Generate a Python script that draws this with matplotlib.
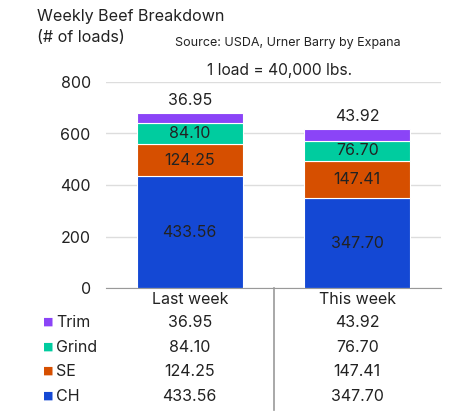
import matplotlib
matplotlib.use("Agg")
import matplotlib.pyplot as plt
import numpy as np

plt.rcParams['font.family'] = ['Inter', 'DejaVu Sans']

categories = ["Last week", "This week"]
series = ["CH", "SE", "Grind", "Trim"]
ch = [433.56, 347.70]
se = [124.25, 147.41]
grind = [84.10, 76.70]
trim = [36.95, 43.92]
colors = {"CH": "#1448D4", "SE": "#D64F00", "Grind": "#00CC9F", "Trim": "#8B44F7"}
yticks = [0, 200, 400, 600, 800]

values = {"CH": ch, "SE": se, "Grind": grind, "Trim": trim}
W, H = 458, 411
fig = plt.figure(figsize=(W / 100, H / 100), dpi=100)
ax = fig.add_axes([106 / W, 1 - 288 / H, (441 - 106) / W, (288 - 82) / H])

txt = "#222222"
fs = 11.5
x = np.arange(len(categories))
bottom = np.zeros(len(categories))
for s in series:
    v = np.array(values[s])
    ax.bar(x, v, 0.63, bottom=bottom, color=colors[s], edgecolor="white", linewidth=0.8, zorder=3)
    for i in range(len(categories)):
        if s == "Trim":
            ax.annotate(f"{v[i]:.2f}", (x[i], bottom[i] + v[i]), xytext=(0, 4), textcoords="offset points",
                        ha="center", va="bottom", fontsize=fs, color=txt)
        else:
            ax.text(x[i], bottom[i] + v[i] / 2, f"{v[i]:.2f}", ha="center", va="center", fontsize=fs, color=txt, zorder=4)
    bottom += v

ax.set_xlim(-0.5, 1.5)
ax.set_ylim(0, 800)
ax.set_yticks(yticks)
ax.set_yticklabels([str(t) for t in yticks], fontsize=fs, color=txt)
ax.tick_params(axis="y", length=0, pad=11)
ax.set_xticks([])
ax.grid(axis="y", color="#DDDDDD", linewidth=1, zorder=0)
for sp in ["top", "right", "left"]:
    ax.spines[sp].set_visible(False)
ax.spines["bottom"].set_color("#999999")
ax.spines["bottom"].set_zorder(5)

def fy(py):
    return 1 - py / H

ax.plot([0.5, 0.5], [0, -122 / 206], transform=ax.get_xaxis_transform(), color="#999999",
        linewidth=1.2, clip_on=False)
for i, c in enumerate(categories):
    ax.text(x[i], -(299 - 288) / 206, c, transform=ax.get_xaxis_transform(), ha="center", va="center",
            fontsize=fs, color=txt)
rows = ["Trim", "Grind", "SE", "CH"]
row_y = [322, 347, 371, 396]
for r, py in zip(rows, row_y):
    fig.text(43 / W, fy(py), "■", color=colors[r], fontsize=8, ha="left", va="center",
             family="DejaVu Sans")
    fig.text(56 / W, fy(py), r, color=txt, fontsize=fs, ha="left", va="center")
    for i in range(len(categories)):
        ax.text(x[i], -(py - 288) / 206, f"{values[r][i]:.2f}", transform=ax.get_xaxis_transform(),
                ha="center", va="center", fontsize=fs, color=txt)

fig.text(37 / W, fy(17), "Weekly Beef Breakdown", fontsize=11.6, color=txt, ha="left", va="center")
fig.text(37 / W, fy(37), "(# of loads)", fontsize=11.6, color=txt, ha="left", va="center")
fig.text(175 / W, fy(43), "Source: USDA, Urner Barry by Expana", fontsize=9, color=txt, ha="left", va="center")
fig.text(280 / W, fy(70), "1 load = 40,000 lbs.", fontsize=11.2, color=txt, ha="center", va="center")

fig.savefig("out.png", dpi=100)
